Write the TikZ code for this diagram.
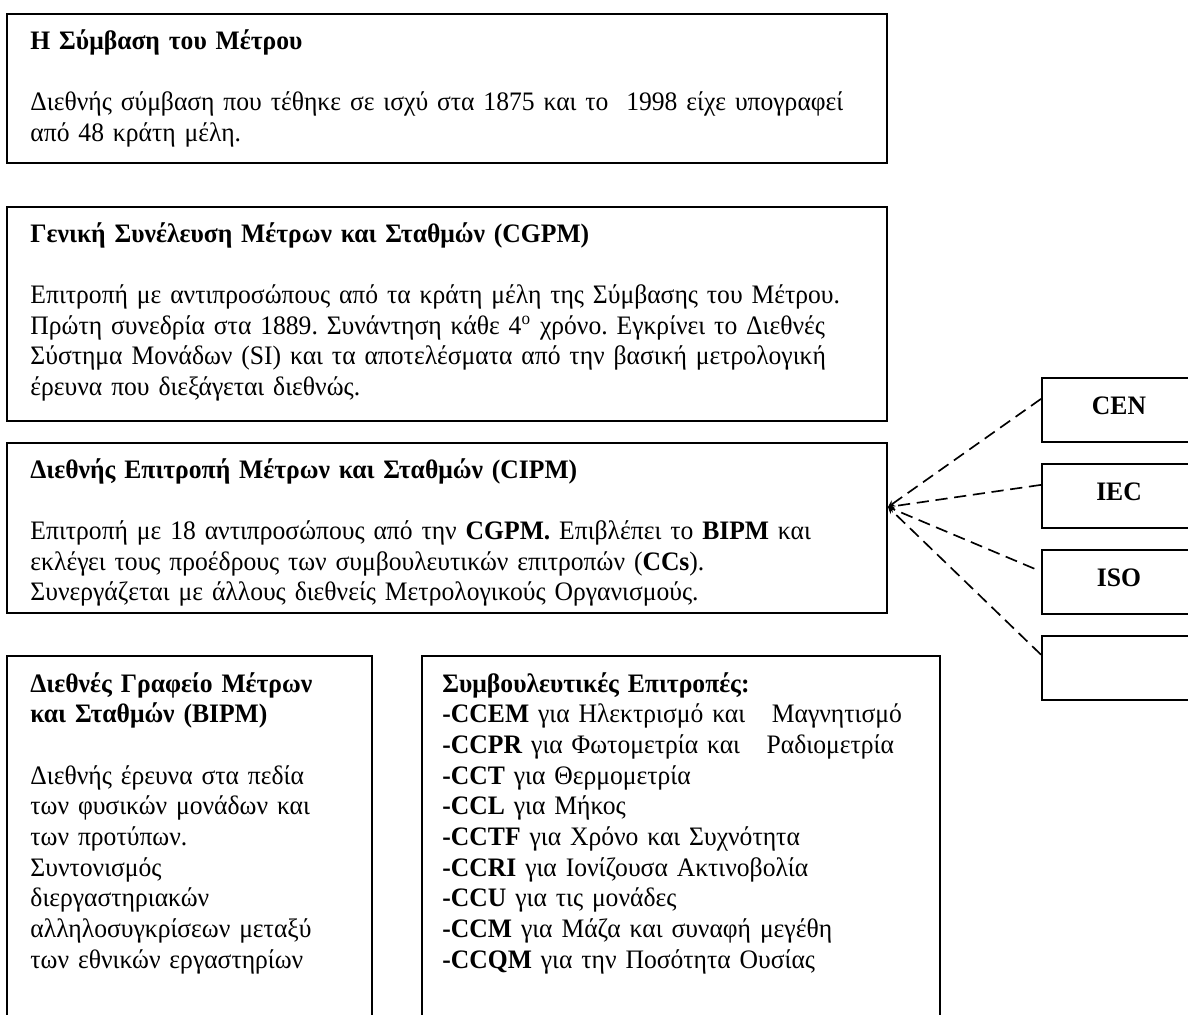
\documentclass[tikz,border=0pt]{standalone}
\usepackage{fontspec}
\setmainfont{Liberation Serif}[FakeStretch=0.96]
\usetikzlibrary{fit,arrows.meta}
\frenchspacing

\begin{document}
\begin{tikzpicture}[x=0.45pt, y=-0.45pt,
                    box/.style={draw, line width=0.9pt, inner sep=0pt},
                    body/.style={anchor=base west, inner sep=0pt, text width=420pt,
                                 align=left, font=\fontsize{12}{13.8}\selectfont},
                    tag/.style={inner sep=0pt, font=\fontsize{12}{13.8}\selectfont\bfseries},
                    link/.style={dash pattern=on 5.5pt off 3pt, line width=0.75pt,
                                 -{Stealth[length=3pt,width=3pt]}}]
    \useasboundingbox (0,0) rectangle (1188,1015);

    % the boxes on the left
    \node[box, fit={(7,14) (887,163)}] (conv) {};
    \node[body] (convtext) at (30,49) {\textbf{Η Σύμβαση του Μέτρου}\\[13.8pt]
        Διεθνής σύμβαση που τέθηκε σε ισχύ στα 1875 και το\ \ 1998 είχε υπογραφεί\\
        από 48 κράτη μέλη.};

    \node[box, fit={(7,207) (887,421)}] (cgpm) {};
    \node[body] (cgpmtext) at (30,242) {\textbf{Γενική Συνέλευση Μέτρων και Σταθμών (CGPM)}\\[13.8pt]
        Επιτροπή με αντιπροσώπους από τα κράτη μέλη της Σύμβασης του Μέτρου.\\
        Πρώτη συνεδρία στα 1889. Συνάντηση κάθε 4\textsuperscript{o} χρόνο. Εγκρίνει το Διεθνές\\
        Σύστημα Μονάδων (SI) και τα αποτελέσματα από την βασική μετρολογική\\
        έρευνα που διεξάγεται διεθνώς.};

    \node[box, fit={(7,443) (887,613)}] (cipm) {};
    \node[body] (cipmtext) at (30,478) {\textbf{Διεθνής Επιτροπή Μέτρων και Σταθμών (CIPM)}\\[13.8pt]
        Επιτροπή με 18 αντιπροσώπους από την \textbf{CGPM.} Επιβλέπει το \textbf{BIPM} και\\
        εκλέγει τους προέδρους των συμβουλευτικών επιτροπών (\textbf{CCs}).\\
        Συνεργάζεται με άλλους διεθνείς Μετρολογικούς Οργανισμούς.};

    \node[box, fit={(7,656) (372,1040)}] (bipm) {};
    \node[body] (bipmtext) at (30,692) {\textbf{Διεθνές Γραφείο Μέτρων}\\
        \textbf{και Σταθμών (BIPM)}\\[13.8pt]
        Διεθνής έρευνα στα πεδία\\
        των φυσικών μονάδων και\\
        των προτύπων.\\
        Συντονισμός\\
        διεργαστηριακών\\
        αλληλοσυγκρίσεων μεταξύ\\
        των εθνικών εργαστηρίων};

    \node[box, fit={(422,656) (940,1040)}] (ccs) {};
    \node[body] (ccstext) at (442,692) {\textbf{Συμβουλευτικές Επιτροπές:}\\
        \textbf{-CCEM} για Ηλεκτρισμό και\ \ \ Μαγνητισμό\\
        \textbf{-CCPR} για Φωτομετρία και\ \ \ Ραδιομετρία\\
        \textbf{-CCT} για Θερμομετρία\\
        \textbf{-CCL} για Μήκος\\
        \textbf{-CCTF} για Χρόνο και Συχνότητα\\
        \textbf{-CCRI} για Ιονίζουσα Ακτινοβολία\\
        \textbf{-CCU} για τις μονάδες\\
        \textbf{-CCM} για Μάζα και συναφή μεγέθη\\
        \textbf{-CCQM} για την Ποσότητα Ουσίας};

    % the bodies on the right
    \node[box, fit={(1042,378) (1196,442)}] (cen) {};
    \node[box, fit={(1042,464) (1196,528)}] (iec) {};
    \node[box, fit={(1042,550) (1196,614)}] (iso) {};
    \node[box, fit={(1042,636) (1196,700)}] (other) {};
    \node[tag] (centext) at ([yshift=2pt]cen.center) {CEN};
    \node[tag] (iectext) at ([yshift=2pt]iec.center) {IEC};
    \node[tag] (isotext) at ([yshift=2pt]iso.center) {ISO};

    \coordinate (hub) at (888,507);
    \draw[link] ([yshift=5pt]cen.west) -- (hub);
    \draw[link] ([yshift=5pt]iec.west) -- (hub);
    \draw[link] ([xshift=-3pt,yshift=6pt]iso.west) -- (hub);
    \draw[link] ([yshift=6pt]other.west) -- (hub);
\end{tikzpicture}
\end{document}
